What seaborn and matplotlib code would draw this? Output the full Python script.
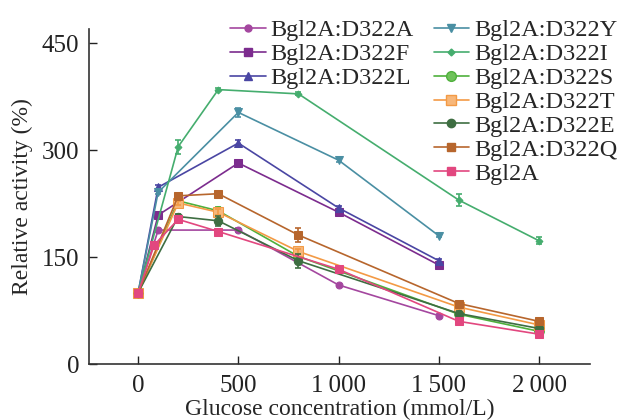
import matplotlib
matplotlib.use("Agg")
import matplotlib.pyplot as plt
import seaborn as sns
import pandas as pd
from matplotlib.lines import Line2D

sns.set_theme(style="ticks")
plt.rcParams['font.family'] = ['Liberation Serif', 'DejaVu Serif']

labels = ["Bgl2A:D322A", "Bgl2A:D322F", "Bgl2A:D322L", "Bgl2A:D322Y", "Bgl2A:D322I",
          "Bgl2A:D322S", "Bgl2A:D322T", "Bgl2A:D322E", "Bgl2A:D322Q", "Bgl2A"]

x_A = [0, 100, 500, 1000, 1500]
y_A = [100, 188, 188, 111, 68]
e_A = [3, 3, 3, 2, 2]

x_F = [0, 100, 500, 1000, 1500]
y_F = [100, 209, 282, 213, 139]
e_F = [3, 3, 4, 3, 3]

x_L = [0, 100, 500, 1000, 1500]
y_L = [100, 248, 310, 219, 145]
e_L = [3, 3, 4, 3, 3]

x_Y = [0, 100, 500, 1000, 1500]
y_Y = [100, 241, 353, 286, 180]
e_Y = [3, 3, 6, 3, 2]

x_I = [0, 200, 400, 800, 1600, 2000]
y_I = [100, 305, 385, 379, 230, 173]
e_I = [3, 10, 2, 2, 8, 5]

x_S = [0, 200, 400, 800, 1600, 2000]
y_S = [100, 229, 215, 151, 70, 46]
e_S = [3, 3, 5, 4, 3, 3]

x_T = [0, 200, 400, 800, 1600, 2000]
y_T = [100, 226, 213, 158, 80, 55]
e_T = [3, 3, 4, 4, 3, 3]

x_E = [0, 200, 400, 800, 1600, 2000]
y_E = [100, 207, 201, 145, 71, 50]
e_E = [3, 3, 7, 10, 3, 3]

x_Q = [0, 200, 400, 800, 1600, 2000]
y_Q = [100, 236, 239, 181, 85, 60]
e_Q = [3, 3, 3, 10, 3, 3]

x_W = [0, 80, 200, 400, 1000, 1600, 2000]
y_W = [100, 167, 203, 186, 133, 60, 42]
e_W = [3, 3, 3, 3, 3, 3, 3]

xs = [x_A, x_F, x_L, x_Y, x_I, x_S, x_T, x_E, x_Q, x_W]
ys = [y_A, y_F, y_L, y_Y, y_I, y_S, y_T, y_E, y_Q, y_W]
es = [e_A, e_F, e_L, e_Y, e_I, e_S, e_T, e_E, e_Q, e_W]

colors = ["#a4479f", "#7c2c8e", "#4a46a3", "#4a8fa3", "#45ad6e",
          "#4fb03c", "#f39a45", "#3e6e42", "#b7662d", "#e2477f"]
markers = ["o", "s", "^", "v", "D", "o", "s", "o", "s", "s"]
msizes = [5, 6, 6, 6, 3.5, 7, 7, 6, 6, 6]
mfaces = ["#a4479f", "#7c2c8e", "#4a46a3", "#4a8fa3", "#45ad6e",
          "#6fc25a", "#f7b77a", "#3e6e42", "#b7662d", "#e2477f"]

fig = plt.figure(figsize=(6.18, 4.2), dpi=100)
ax = fig.add_axes([0.144, 0.133, 0.811, 0.798])

for i in range(len(labels)):
    df = pd.DataFrame({"x": xs[i], "y": ys[i]})
    sns.lineplot(data=df, x="x", y="y", ax=ax, color=colors[i], marker=markers[i],
                 markersize=msizes[i], markerfacecolor=mfaces[i], markeredgecolor=colors[i],
                 linewidth=1.2, label=None, legend=False)
    ax.errorbar(xs[i], ys[i], yerr=es[i], fmt="none", ecolor=colors[i],
                elinewidth=1.2, capsize=2.5, capthick=1.2)

ax.set_xlim(-245, 2255)
ax.set_ylim(0, 470)
ax.set_xticks([0, 500, 1000, 1500, 2000])
ax.set_xticklabels(["0", "500", "1\u2009000", "1\u2009500", "2\u2009000"])
ax.set_yticks([0, 150, 300, 450])
ax.tick_params(direction="in", length=6, width=1, labelsize=18, colors="#222222")
ax.tick_params(axis="x", pad=8)
ax.tick_params(axis="y", pad=7)
for s in ["top", "right"]:
    ax.spines[s].set_visible(False)
for s in ["left", "bottom"]:
    ax.spines[s].set_color("#333333")
    ax.spines[s].set_linewidth(1.2)
ax.set_xlabel("Glucose concentration (mmol/L)", fontsize=17, labelpad=1)
ax.set_ylabel("Relative activity (%)", fontsize=17, labelpad=6)

handles = [Line2D([0], [0], color=colors[i], marker=markers[i], markersize=msizes[i],
                  markerfacecolor=mfaces[i], markeredgecolor=colors[i], linewidth=1.2)
           for i in range(len(labels))]

leg_kw = dict(frameon=False, fontsize=17.5, handlelength=1.45, handletextpad=0.2,
              labelspacing=0.08, borderaxespad=0.0, borderpad=0.2)
leg1 = fig.legend(handles[:3], labels[:3], loc="upper left", bbox_to_anchor=(0.365, 0.966), **leg_kw)
leg2 = fig.legend(handles[3:], labels[3:], loc="upper left", bbox_to_anchor=(0.694, 0.966), **leg_kw)

fig.savefig("out.png", dpi=100)
